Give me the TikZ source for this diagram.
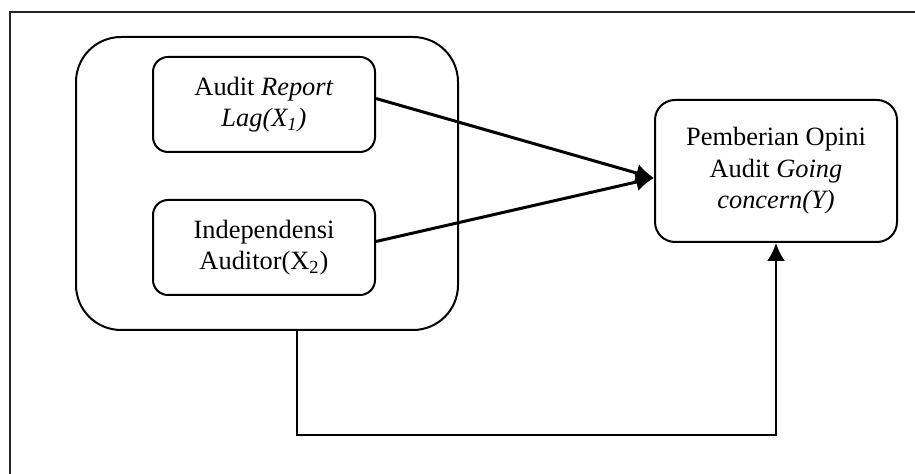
\documentclass[tikz,border=0pt]{standalone}
\usepackage{fontspec}
\setmainfont{Liberation Serif}
\usetikzlibrary{arrows.meta}
\begin{document}
\begin{tikzpicture}[x=0.5pt, y=-0.5pt, >={Latex[length=9pt,width=9pt]},
    kotak/.style={draw, line width=1pt, rounded corners=7.5pt, minimum width=111pt, minimum height=47.5pt, align=center, inner sep=0pt},
    panah/.style={->, line width=1.5pt}]
\useasboundingbox (0,0) rectangle (915,474);
\clip (0,0) rectangle (915,474);
\fontsize{13.2}{15.8}\selectfont
\draw[line width=0.9pt, black!85] (10,12) rectangle (940,500);

\node[draw, line width=1pt, rounded corners=22.5pt, minimum width=191pt, minimum height=146.5pt] (grp) at (267,183.5) {};
\node[kotak] (rpt) at (264,104.5) {Audit \textit{Report}\\\textit{Lag(X\textsubscript{1})}};
\node[kotak] (ind) at (264,247.5) {Independensi\\Auditor(X\textsubscript{2})};
\node[kotak, rounded corners=10pt, minimum width=121pt, minimum height=71pt] (op) at (776,171) {Pemberian Opini\\Audit \textit{Going}\\\textit{concern(Y)}};

\coordinate (tip) at ([yshift=-3.5pt]op.west);
\draw[panah] ([yshift=3pt]rpt.east) -- (tip);
\draw[panah] ([yshift=3pt]ind.east) -- (tip);
\draw[->, line width=1.2pt] ([xshift=15pt]grp.south) -- ++(0,-52pt) -| (op.south);

\end{tikzpicture}
\end{document}
